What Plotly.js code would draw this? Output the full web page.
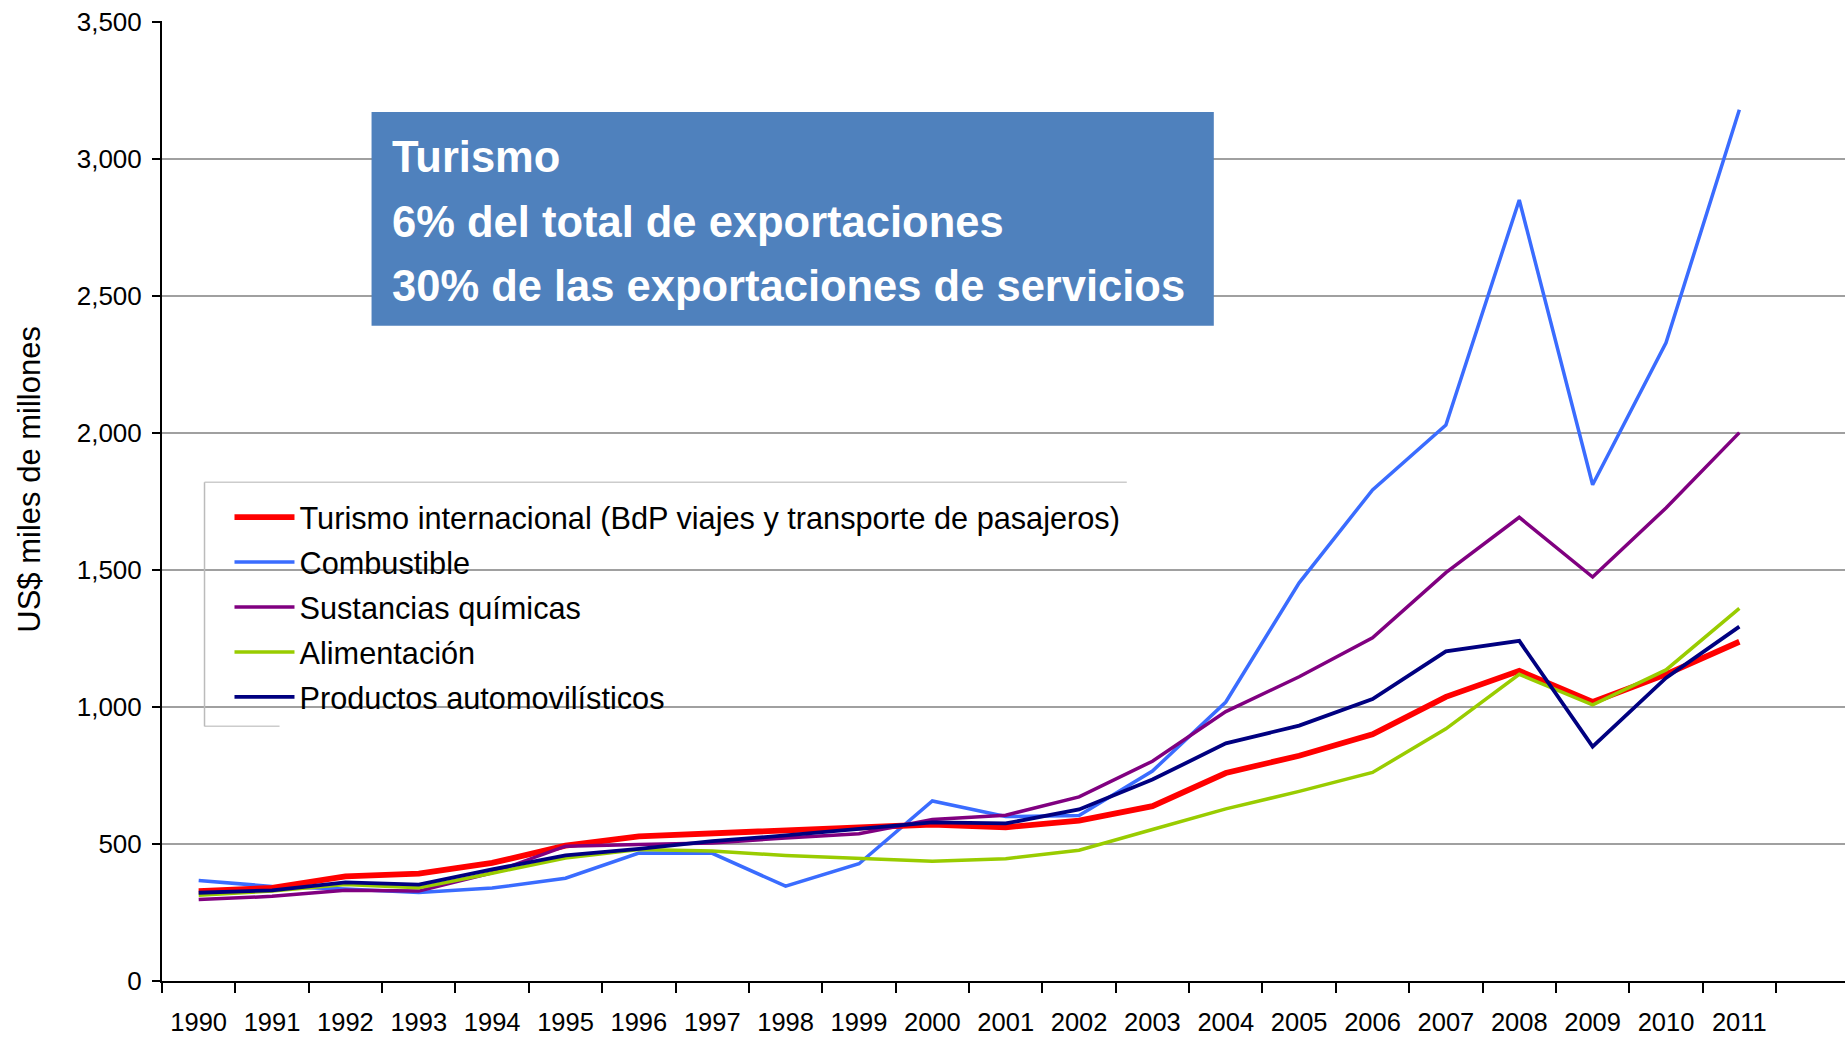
<!DOCTYPE html>
<html>
<head>
<meta charset="utf-8">
<script src="https://cdn.plot.ly/plotly-3.0.1.min.js"></script>
<style>html,body{margin:0;padding:0;background:#fff;}#chart{width:1845px;height:1037px;}</style>
</head>
<body>
<div id="chart"></div>
<script>
const years = ['1990','1991','1992','1993','1994','1995','1996','1997','1998','1999','2000','2001','2002','2003','2004','2005','2006','2007','2008','2009','2010','2011'];
const turismo = [328,340,382,392,431,494,528,538,546,561,571,561,585,638,759,822,900,1037,1132,1018,1119,1238];
const combustible = [367,345,336,323,339,375,467,466,346,428,657,600,604,766,1018,1453,1792,2029,2850,1811,2329,3179];
const quimicas = [297,309,331,328,395,492,498,504,522,537,589,605,672,802,983,1110,1252,1490,1692,1474,1726,2001];
const alimentacion = [313,328,352,340,393,449,480,474,458,446,437,446,477,553,628,692,761,920,1119,1008,1135,1360];
const automoviles = [322,331,360,352,407,458,482,510,531,555,579,575,626,735,867,932,1029,1203,1241,855,1106,1293];

const names = ['Turismo internacional (BdP viajes y transporte de pasajeros)','Combustible','Sustancias químicas','Alimentación','Productos automovilísticos'];
const boxLines = ['Turismo','6% del total de exportaciones','30% de las exportaciones de servicios'];
const yTitle = 'US$ miles de millones';

function tr(y, name, color, width, rank){
  return {x: years, y: y, type:'scatter', mode:'lines', name: name,
    line:{color: color, width: width}, legendrank: rank, legendgroup: 'g'+rank, hoverinfo:'skip'};
}
const data = [
  tr(combustible, names[1], '#3a6cff', 3.5, 2),
  tr(turismo, names[0], '#ff0000', 5.8, 1),
  tr(quimicas, names[2], '#800080', 3.5, 3),
  tr(alimentacion, names[3], '#99cc00', 3.5, 4),
  tr(automoviles, names[4], '#000080', 3.8, 5)
];

const F = '"Liberation Sans", Arial, sans-serif';

const layout = {
  width:1845, height:1037,
  margin:{l:162, r:0, t:21, b:56},
  paper_bgcolor:'#fff', plot_bgcolor:'#fff',
  font:{family:F, color:'#000'},
  showlegend:true,
  legend:{x:0.0401, y:0.5107, xanchor:'left', yanchor:'top', bgcolor:'rgba(0,0,0,0)', borderwidth:0,
    font:{family:F, size:30.7, color:'#000'}, itemwidth:60, traceorder:'grouped', tracegroupgap:2},
  xaxis:{type:'category', range:[-0.5, 22.44], tickson:'boundaries', ticks:'outside', ticklen:10, tickwidth:2, tickcolor:'#000',
    showline:true, linecolor:'#000', linewidth:2, showgrid:false, zeroline:false,
    tickfont:{family:F, size:25.5, color:'#000'}, ticklabelstandoff:17, fixedrange:true},
  yaxis:{range:[0,3503], dtick:500, tick0:0, tickformat:',d', ticks:'outside', ticklen:8, tickwidth:2, tickcolor:'#000',
    showline:true, linecolor:'#000', linewidth:2, showgrid:true, gridcolor:'#a0a0a0', gridwidth:1.5, zeroline:false,
    tickfont:{family:F, size:26, color:'#000'}, ticklabelstandoff:5, fixedrange:true},
  shapes:[
    {type:'rect', xref:'paper', yref:'paper', x0:0.02526, x1:0.58514, y0:0.26524, y1:0.51954, fillcolor:'#fff', line:{width:0}, layer:'between'},
    {type:'line', xref:'paper', yref:'paper', x0:0.02526, x1:0.57325, y0:0.51954, y1:0.51954, line:{color:'#cccccc', width:1.5}},
    {type:'line', xref:'paper', yref:'paper', x0:0.02526, x1:0.06984, y0:0.26524, y1:0.26524, line:{color:'#cccccc', width:1.5}},
    {type:'line', xref:'paper', yref:'paper', x0:0.02526, x1:0.02526, y0:0.26524, y1:0.51954, line:{color:'#bbbbbb', width:1.5}},
    {type:'rect', xref:'paper', yref:'paper', x0:0.12451, x1:0.62496, y0:0.68265, y1:0.90516, fillcolor:'#4f81bd', line:{width:0}, layer:'above'}
  ],
  annotations:[
    {xref:'paper', yref:'paper', x:0.13522, y:0.85834, xanchor:'left', yanchor:'middle', showarrow:false, text:'<b>'+boxLines[0]+'</b>', font:{family:F, size:43.5, color:'#fff'}},
    {xref:'paper', yref:'paper', x:0.13522, y:0.79060, xanchor:'left', yanchor:'middle', showarrow:false, text:'<b>'+boxLines[1]+'</b>', font:{family:F, size:43.5, color:'#fff'}},
    {xref:'paper', yref:'paper', x:0.13522, y:0.72388, xanchor:'left', yanchor:'middle', showarrow:false, text:'<b>'+boxLines[2]+'</b>', font:{family:F, size:43.5, color:'#fff'}},
    {xref:'paper', yref:'paper', x:-0.07875, y:0.52267, xanchor:'center', yanchor:'middle', showarrow:false, textangle:-90, text:yTitle, font:{family:F, size:31, color:'#000'}}
  ]
};
Plotly.newPlot('chart', data, layout, {staticPlot:true, displayModeBar:false});
</script>
</body>
</html>
